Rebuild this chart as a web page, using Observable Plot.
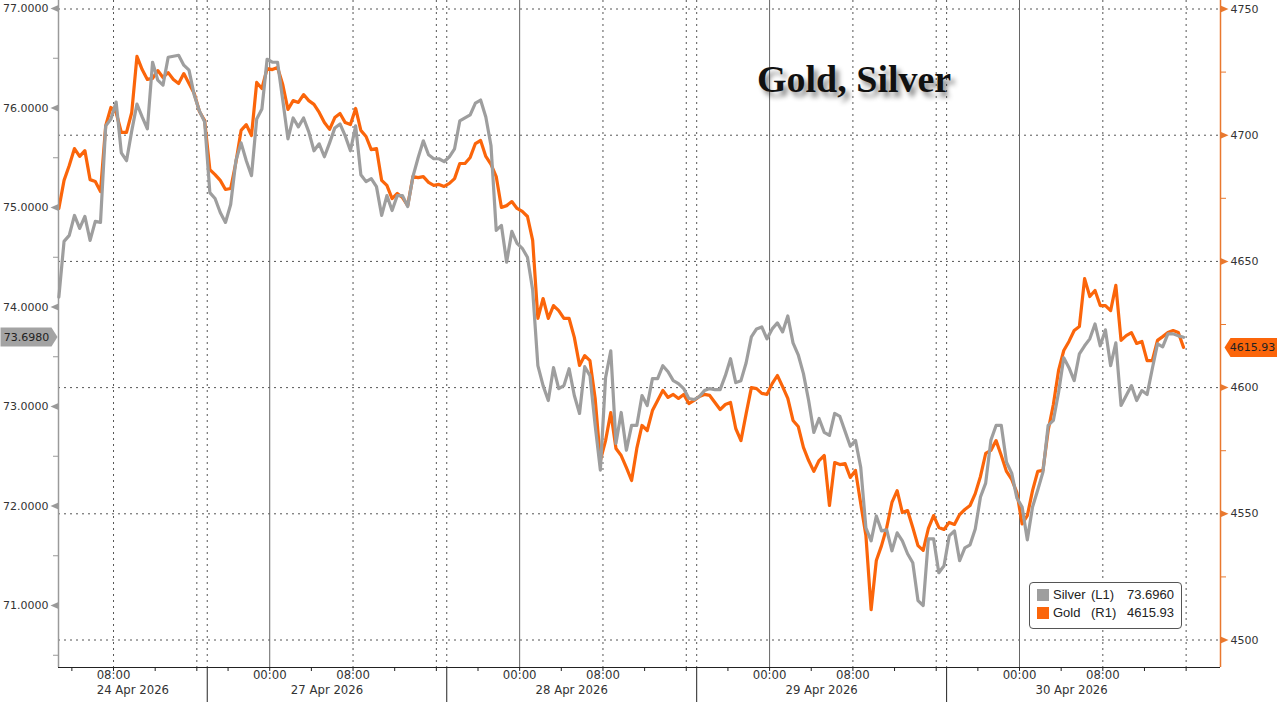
<!DOCTYPE html>
<html>
<head>
<meta charset="utf-8">
<script src="https://cdn.jsdelivr.net/npm/d3@7"></script>
<script src="https://cdn.jsdelivr.net/npm/@observablehq/plot@0.6"></script>
<style>
  html, body { margin: 0; padding: 0; background: #fff; }
  #wrap { position: relative; width: 1277px; height: 702px; overflow: hidden; }
  #title { position: absolute; left: 757px; top: 60px; font: bold 38px/38px "Liberation Serif", "Times New Roman", serif; color: #111; text-shadow: 4px 5px 5px rgba(0,0,0,0.45); white-space: nowrap; }
  #legend { position: absolute; left: 1029px; top: 582px; width: 153px; height: 47px; box-sizing: border-box; border: 1px solid #555; border-radius: 4px; background: #fff; font: 13px "Liberation Sans", Arial, sans-serif; color: #222; }
  #legend .sw { position: absolute; left: 7px; width: 12px; height: 12px; }
  #legend span { position: absolute; white-space: pre; line-height: 14px; }
</style>
</head>
<body>
<div id="wrap">
  <div id="chart"></div>
  <div id="title"></div>
  <div id="legend"></div>
</div>
<script>
// ---------------- data ----------------
const seriesNames = ["Silver", "Gold"];
const seriesAxes = ["(L1)", "(R1)"];
const sessions = [["2026-04-24T02:45Z", "2026-04-24T17:00Z"], ["2026-04-26T18:15Z", "2026-04-30T16:00Z"]];
const stepMinutes = 30;
const weekendGap = ["2026-04-24T17:00Z", "2026-04-26T18:00Z"];
const xDomainTimes = ["2026-04-24T02:43Z", "2026-04-30T19:18Z"];

const silverValues = [
  74.10, 74.66, 74.72, 74.92, 74.79, 74.91, 74.67, 74.86, 74.85, 75.82,
  75.89, 76.06, 75.55, 75.47, 75.77, 76.04, 75.91, 75.79, 76.46, 76.28,
  76.23, 76.51, 76.52, 76.53, 76.43, 76.38, 76.13, 75.97, 75.86, 75.15,
  75.09, 74.95, 74.85, 75.03, 75.47, 75.65, 75.47, 75.32, 75.89, 75.99,
  76.49, 76.46, 76.46, 76.08, 75.69, 75.90, 75.81, 75.90, 75.76, 75.57,
  75.64, 75.51, 75.65, 75.80, 75.84, 75.72, 75.57, 75.82, 75.33, 75.26,
  75.29, 75.21, 74.92, 75.12, 74.97, 75.12, 75.12, 75.01, 75.31, 75.50,
  75.67, 75.53, 75.49, 75.49, 75.46, 75.51, 75.59, 75.87, 75.90, 75.93,
  76.05, 76.08, 75.91, 75.62, 74.77, 74.82, 74.45, 74.76, 74.64, 74.59,
  74.50, 74.17, 73.41, 73.21, 73.06, 73.39, 73.18, 73.21, 73.38, 73.11,
  72.93, 73.40, 73.31, 72.81, 72.36, 73.29, 73.56, 72.63, 72.94, 72.56,
  72.81, 72.81, 73.11, 73.01, 73.28, 73.28, 73.41, 73.35, 73.26, 73.23,
  73.18, 73.08, 73.07, 73.10, 73.16, 73.18, 73.17, 73.17, 73.31, 73.48,
  73.24, 73.26, 73.44, 73.70, 73.78, 73.80, 73.68, 73.78, 73.84, 73.75,
  73.91, 73.64, 73.52, 73.33, 73.06, 72.74, 72.88, 72.74, 72.71, 72.93,
  72.90, 72.75, 72.60, 72.66, 72.39, 71.78, 71.65, 71.90, 71.75, 71.76,
  71.55, 71.73, 71.65, 71.52, 71.43, 71.05, 71.00, 71.67, 71.67, 71.33,
  71.40, 71.70, 71.75, 71.45, 71.58, 71.61, 71.77, 72.09, 72.23, 72.66,
  72.81, 72.81, 72.44, 72.33, 72.08, 71.99, 71.66, 71.99, 72.16, 72.34,
  72.81, 72.86, 73.14, 73.49, 73.39, 73.26, 73.53, 73.61, 73.68, 73.83,
  73.61, 73.77, 73.41, 73.64, 73.01, 73.11, 73.21, 73.06, 73.16, 73.12,
  73.38, 73.63, 73.60, 73.73, 73.73, 73.71, 73.696
];

const goldValues = [
  4671.0, 4682.1, 4688.0, 4694.7, 4691.6, 4693.9, 4682.4, 4681.7, 4677.7, 4703.8,
  4711.0, 4709.0, 4701.1, 4701.1, 4709.0, 4731.2, 4726.0, 4722.1, 4722.5, 4725.6,
  4722.9, 4724.8, 4722.1, 4720.5, 4724.4, 4720.5, 4716.5, 4709.4, 4705.8, 4686.4,
  4684.4, 4682.1, 4678.5, 4678.9, 4689.2, 4701.9, 4704.2, 4699.9, 4720.9, 4718.5,
  4726.4, 4726.0, 4726.8, 4720.1, 4710.2, 4713.7, 4713.0, 4716.1, 4713.7, 4712.2,
  4709.0, 4705.0, 4702.3, 4707.0, 4708.6, 4705.0, 4704.2, 4710.6, 4701.9, 4699.5,
  4694.3, 4694.7, 4682.1, 4680.1, 4674.9, 4676.9, 4675.3, 4672.1, 4683.6, 4683.2,
  4683.6, 4681.3, 4680.1, 4680.5, 4679.7, 4680.9, 4682.8, 4688.8, 4688.8, 4691.2,
  4696.7, 4697.9, 4691.6, 4688.4, 4683.6, 4671.4, 4672.1, 4673.7, 4671.0, 4669.8,
  4667.8, 4658.3, 4627.4, 4635.3, 4627.4, 4632.5, 4630.5, 4627.4, 4627.4, 4619.9,
  4608.8, 4612.7, 4610.7, 4595.7, 4571.1, 4579.0, 4590.1, 4575.9, 4573.1, 4568.3,
  4563.2, 4575.9, 4585.0, 4583.0, 4590.9, 4594.9, 4598.9, 4596.1, 4597.3, 4595.7,
  4597.3, 4593.7, 4594.9, 4596.5, 4597.3, 4596.9, 4594.1, 4591.3, 4593.3, 4594.1,
  4583.8, 4579.0, 4589.7, 4600.0, 4599.6, 4597.7, 4597.3, 4601.6, 4604.8, 4600.4,
  4595.7, 4587.0, 4584.6, 4576.3, 4571.1, 4566.8, 4571.1, 4573.1, 4553.3, 4570.3,
  4569.5, 4569.9, 4564.4, 4567.2, 4554.1, 4541.4, 4512.0, 4531.5, 4537.4, 4544.6,
  4554.5, 4559.2, 4550.5, 4551.3, 4544.6, 4537.4, 4535.5, 4544.2, 4549.3, 4544.6,
  4543.8, 4546.6, 4545.8, 4549.7, 4551.7, 4553.3, 4558.0, 4564.8, 4573.9, 4575.1,
  4579.0, 4573.1, 4566.8, 4563.6, 4558.4, 4546.0, 4549.3, 4559.2, 4566.8, 4567.2,
  4583.0, 4593.3, 4606.8, 4614.7, 4618.3, 4622.6, 4624.2, 4643.2, 4636.1, 4638.5,
  4632.5, 4632.5, 4630.5, 4640.5, 4618.7, 4620.6, 4621.8, 4617.5, 4618.3, 4610.7,
  4610.7, 4618.7, 4620.2, 4621.8, 4622.6, 4621.8, 4615.93
];

const lastSilverTag = 73.6980;
const lastGoldTag = 4615.93;
const legendValues = ["73.6960", "4615.93"];

const silverTicks = [71, 72, 73, 74, 75, 76, 77];
const silverMinorTicks = [70.5, 71.5, 72.5, 73.5, 74.5, 75.5, 76.5];
const goldTicks = [4500, 4550, 4600, 4650, 4700, 4750];
const goldMinorTicks = [4525, 4575, 4625, 4675, 4725];
const silverDomain = [70.377, 77.0804];
const goldDomain = [4489.11, 4753.37];

const timeTickTimes = ["2026-04-24T08:00Z", "2026-04-27T00:00Z", "2026-04-27T08:00Z", "2026-04-28T00:00Z", "2026-04-28T08:00Z",
  "2026-04-29T00:00Z", "2026-04-29T08:00Z", "2026-04-30T00:00Z", "2026-04-30T08:00Z"];
const timeTickLabels = ["08:00", "00:00", "08:00", "00:00", "08:00", "00:00", "08:00", "00:00", "08:00"];
const dayLabels = ["24 Apr 2026", "27 Apr 2026", "28 Apr 2026", "29 Apr 2026", "30 Apr 2026"];
const dayEndTimes = ["2026-04-24T17:00Z", "2026-04-27T17:00Z", "2026-04-28T17:00Z", "2026-04-29T17:00Z", "2026-04-30T17:00Z"];
const midnightTimes = ["2026-04-27T00:00Z", "2026-04-28T00:00Z", "2026-04-29T00:00Z", "2026-04-30T00:00Z"];
const dottedTimes = ["2026-04-24T08:00Z", "2026-04-24T16:00Z", "2026-04-24T17:00Z",
  "2026-04-27T08:00Z", "2026-04-27T16:00Z", "2026-04-27T17:00Z",
  "2026-04-28T08:00Z", "2026-04-28T16:00Z", "2026-04-28T17:00Z",
  "2026-04-29T08:00Z", "2026-04-29T16:00Z", "2026-04-29T17:00Z",
  "2026-04-30T08:00Z", "2026-04-30T16:00Z"];
const separatorTimes = ["2026-04-24T17:00Z", "2026-04-27T17:00Z", "2026-04-28T17:00Z", "2026-04-29T17:00Z"];
const minorTickRange = ["2026-04-24T04:00Z", "2026-04-30T20:00Z"];

// ---------------- helpers ----------------
const H = 3600000;
const base = Date.parse("2026-04-24T00:00Z");
const gapStart = Date.parse(weekendGap[0]);
const gapEnd = Date.parse(weekendGap[1]);
function ct(v) { // trading-time hours (weekend removed)
  const d = typeof v === "string" ? Date.parse(v) : +v;
  let h = (d - base) / H;
  if (d >= gapEnd) h -= (gapEnd - gapStart) / H;
  return h;
}
const times = sessions.flatMap(([a, b]) => d3.range(Date.parse(a), Date.parse(b), stepMinutes * 60000).map(ms => new Date(ms)));
const data = times.map((time, i) => ({time, t: ct(time), silver: silverValues[i], gold: goldValues[i]}));
const g2s = d3.scaleLinear().domain(goldDomain).range(silverDomain);
const s2g = g2s.invert;
const xDomain = xDomainTimes.map(ct);

const fourHour = d3.utcHour.every(4).range(new Date(minorTickRange[0]), new Date(minorTickRange[1]))
  .filter(d => !(d > gapStart && d < gapEnd)).map(ct).filter(t => t >= xDomain[0] && t <= xDomain[1]);

const dayCenters = dayEndTimes.map((e, i) => {
  const start = i === 0 ? xDomain[0] : ct(dayEndTimes[i - 1]);
  return (start + ct(e)) / 2;
});

// custom symbols
const triLeft = {draw(c) { c.moveTo(0, -3.5); c.lineTo(0, 3.5); c.lineTo(-8, 0); c.closePath(); }};
const triRight = {draw(c) { c.moveTo(0, -3.5); c.lineTo(0, 3.5); c.lineTo(8, 0); c.closePath(); }};
const tagLeft = {draw(c) { c.moveTo(-58, -9.5); c.lineTo(-7, -9.5); c.lineTo(-1, 0); c.lineTo(-7, 9.5); c.lineTo(-58, 9.5); c.closePath(); }};
const tagRight = {draw(c) { c.moveTo(4, 0); c.lineTo(10, -9.5); c.lineTo(60, -9.5); c.lineTo(60, 9.5); c.lineTo(10, 9.5); c.closePath(); }};

const GOLD = "#fb650a";
const SILVER = "#9e9e9e";
const AXIS_ORANGE = "#e9782e";
const labelFont = "'DejaVu Sans', Verdana, sans-serif";
const xFont = "'DejaVu Sans Condensed', 'DejaVu Sans', sans-serif";

const chart = Plot.plot({
  width: 1277,
  height: 702,
  marginLeft: 58,
  marginRight: 57,
  marginTop: 0,
  marginBottom: 35,
  x: {domain: xDomain, axis: null, label: null},
  y: {domain: silverDomain, axis: null, label: null},
  style: {background: "#fff", color: "#333", fontFamily: labelFont, fontSize: "11px"},
  marks: [
    // grid
    Plot.ruleY(goldTicks.map(g2s), {stroke: "#555", strokeWidth: 1, strokeDasharray: "2,4"}),
    Plot.ruleX(dottedTimes.map(ct), {stroke: "#555", strokeWidth: 1, strokeDasharray: "2,4"}),
    Plot.ruleX(midnightTimes.map(ct), {stroke: "#666", strokeWidth: 1}),
    // series
    Plot.line(data, {x: "t", y: d => g2s(d.gold), stroke: GOLD, strokeWidth: 3.2, strokeLinejoin: "round"}),
    Plot.line(data, {x: "t", y: "silver", stroke: SILVER, strokeWidth: 3.2, strokeLinejoin: "round"}),
    // axis lines
    Plot.ruleX([xDomain[0]], {stroke: "#9a9a9a", strokeWidth: 1.5}),
    Plot.ruleX([xDomain[1]], {stroke: AXIS_ORANGE, strokeWidth: 1.5}),
    Plot.ruleY([silverDomain[0]], {stroke: "#222", strokeWidth: 1.2}),
    // left axis
    Plot.axisY(silverMinorTicks, {anchor: "left", tickSize: 5, tickFormat: () => "", label: null, stroke: "#999"}),
    Plot.dot(silverTicks, {y: d => d, frameAnchor: "left", symbol: triLeft, fill: "#999", stroke: "none", r: 4}),
    Plot.text(silverTicks, {y: d => d, frameAnchor: "left", text: d => d.toFixed(4), textAnchor: "end", dx: -10, fill: "#333", fontSize: 11, fontFamily: labelFont}),
    // right axis
    Plot.axisY(goldMinorTicks.map(g2s), {anchor: "right", tickSize: 5, tickFormat: () => "", label: null, stroke: AXIS_ORANGE}),
    Plot.dot(goldTicks.map(g2s), {y: d => d, frameAnchor: "right", symbol: triRight, fill: AXIS_ORANGE, stroke: "none", r: 4}),
    Plot.text(goldTicks.map(g2s), {y: d => d, frameAnchor: "right", text: d => String(Math.round(s2g(d))), textAnchor: "start", dx: 10, fill: "#333", fontSize: 11, fontFamily: labelFont}),
    // x axis
    Plot.axisX(fourHour, {tickSize: 4, tickFormat: () => "", label: null, stroke: "#222"}),
    Plot.axisX(separatorTimes.map(ct), {tickSize: 36, tickFormat: () => "", label: null, stroke: "#222"}),
    Plot.text(timeTickTimes, {x: d => ct(d), frameAnchor: "bottom", textAnchor: "middle", text: (d, i) => timeTickLabels[i], dy: 11, fill: "#333", fontSize: 13, fontFamily: xFont}),
    Plot.text(dayLabels, {x: (d, i) => dayCenters[i], frameAnchor: "bottom", textAnchor: "middle", text: d => d, dy: 26, fill: "#333", fontSize: 13, fontFamily: xFont}),
    // last value tags
    Plot.dot([lastSilverTag], {y: d => d, frameAnchor: "left", symbol: tagLeft, fill: "#a3a3a3", stroke: "none", r: 4}),
    Plot.text([lastSilverTag], {y: d => d, frameAnchor: "left", textAnchor: "middle", text: d => d.toFixed(4), dx: -32, fill: "#222", fontSize: 11, fontFamily: labelFont}),
    Plot.dot([lastGoldTag], {y: d => g2s(d), frameAnchor: "right", symbol: tagRight, fill: GOLD, stroke: "none", r: 4}),
    Plot.text([lastGoldTag], {y: d => g2s(d), frameAnchor: "right", textAnchor: "middle", text: d => d.toFixed(2), dx: 32, fill: "#222", fontSize: 11, fontFamily: labelFont})
  ]
});
document.getElementById("chart").appendChild(chart);

// title
document.getElementById("title").textContent = seriesNames.slice().reverse().join(", ");

// legend
const legend = document.getElementById("legend");
const colors = [SILVER, GOLD];
seriesNames.forEach((name, i) => {
  const top = 6 + i * 18;
  const sw = document.createElement("div");
  sw.className = "sw"; sw.style.top = top + "px"; sw.style.background = colors[i];
  legend.appendChild(sw);
  [[name, 23], [seriesAxes[i], 61], [legendValues[i], 97]].forEach(([txt, left]) => {
    const s = document.createElement("span");
    s.textContent = txt; s.style.left = left + "px"; s.style.top = (top - 1) + "px";
    legend.appendChild(s);
  });
});
</script>
</body>
</html>
